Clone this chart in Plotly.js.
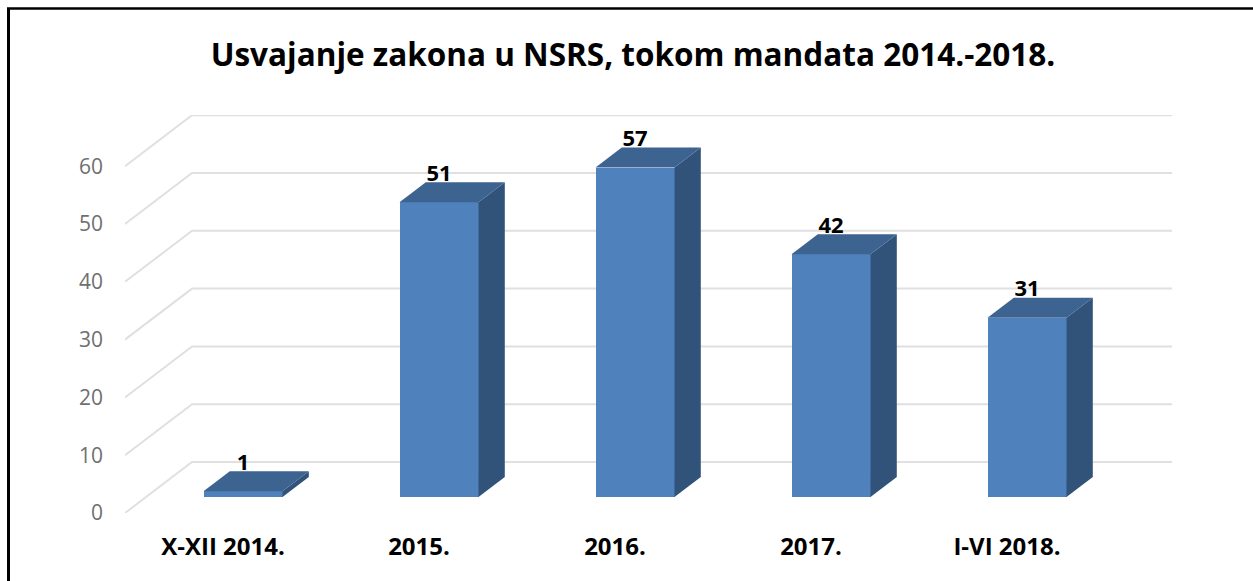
<!DOCTYPE html>
<html>
<head>
<meta charset="utf-8">
<script src="https://cdn.plot.ly/plotly-3.0.1.min.js"></script>
<style>html,body{margin:0;padding:0;background:#fff;overflow:hidden}#chart{width:1253px;height:581px}</style>
</head>
<body>
<div id="chart"></div>
<script>
// Data
const categories = ["X-XII 2014.", "2015.", "2016.", "2017.", "I-VI 2018."];
const laws = [1, 51, 57, 42, 31];
const yTicks = [0, 10, 20, 30, 40, 50, 60];
const chartTitle = "Usvajanje zakona u NSRS, tokom mandata 2014.-2018.";

// Pseudo-3D projection in axis units
const W = 1253, H = 581;
const plot = {l: 125, r: 1172, t: 115, b: 513};
const pxPerCat = 196, pxPerVal = 5.78;
const depthX = 67 / pxPerCat, depthY = 51 / pxPerVal;   // full floor depth
const nearD = 16 / 51, farD = 36 / 51;                  // bar's front/back in depth
const barW = 79 / pxPerCat;
const xMin = -0.5, xMax = xMin + (plot.r - plot.l) / pxPerCat;
const yMax = (plot.b - plot.t) / pxPerVal;

const cx = i => i + nearD * depthX - 1 / pxPerCat;
const front = {c: "#4f81bd", top: "#3d6391", side: "#31537a"};
const baseNear = nearD * depthY;

function poly(xs, ys, color) {
  return {type: "scatter", mode: "lines", x: xs.concat(xs[0]), y: ys.concat(ys[0]),
    fill: "toself", fillcolor: color, line: {width: 0, color: color},
    hoverinfo: "skip", showlegend: false};
}

const traces = [];
// front faces
traces.push({type: "bar", x: categories.map((_, i) => cx(i)), y: laws,
  base: laws.map(() => baseNear), width: barW,
  marker: {color: front.c, line: {width: 0}}, hoverinfo: "skip", showlegend: false});

laws.forEach((v, i) => {
  const xl = cx(i) - barW / 2, xr = cx(i) + barW / 2;
  const dxB = (farD - nearD) * depthX, dyB = (farD - nearD) * depthY;
  const top = v + baseNear;
  traces.push(poly([xr, xr + dxB, xr + dxB, xr], [baseNear, baseNear + dyB, top + dyB, top], front.side));
  traces.push(poly([xl, xr, xr + dxB, xl + dxB], [top, top, top + dyB, top + dyB], front.top));
});

// value labels
traces.push({type: "scatter", mode: "text", x: laws.map((_, i) => cx(i)),
  y: laws.map(v => v + baseNear + 27 / pxPerVal), text: laws.map(String),
  textposition: "middle center", cliponaxis: false,
  textfont: {family: "Open Sans, sans-serif", size: 22, color: "#000", weight: 700},
  hoverinfo: "skip", showlegend: false});

// wall + floor gridlines, built from the y ticks
const shapes = yTicks.map(v => ({
  type: "path", xref: "x", yref: "y", layer: "below",
  path: `M ${xMin} ${v} L ${xMin + depthX} ${v + depthY} L ${xMax} ${v + depthY}`,
  line: {color: "#e0e0e0", width: 2}
}));

// outer frame (left and top edges only)
const px = p => (p - plot.l) / (plot.r - plot.l);
const py = p => (plot.b - p) / (plot.b - plot.t);
shapes.push({type: "line", xref: "paper", yref: "paper", x0: px(8.5), x1: px(8.5), y0: py(8), y1: py(H), line: {color: "#000", width: 3}});
shapes.push({type: "line", xref: "paper", yref: "paper", x0: px(7), x1: px(W), y0: py(8.5), y1: py(8.5), line: {color: "#000", width: 2.5}});

const layout = {
  width: W, height: H,
  margin: {l: plot.l, r: W - plot.r, t: plot.t, b: H - plot.b, pad: 0},
  paper_bgcolor: "#fff", plot_bgcolor: "rgba(0,0,0,0)",
  showlegend: false, bargap: 0,
  title: {text: "<b>" + chartTitle + "</b>", x: 633 / W, xanchor: "center", y: 1 - 55 / H, yanchor: "middle",
    font: {family: "Open Sans, sans-serif", size: 31.5, color: "#000"}},
  xaxis: {type: "linear", range: [xMin, xMax], tickmode: "array",
    tickvals: categories.map((_, i) => i), ticktext: categories,
    showgrid: false, zeroline: false, showline: false, ticks: "", ticklabelstandoff: 17,
    tickfont: {family: "Open Sans, sans-serif", size: 24, color: "#000", weight: 700}},
  yaxis: {range: [0, yMax], tickmode: "array", tickvals: yTicks, ticktext: yTicks.map(String),
    showgrid: false, zeroline: false, showline: false, ticks: "", ticklabelstandoff: 21,
    tickfont: {family: "Open Sans, sans-serif", size: 21, color: "#6f6f6f"}},
  shapes: shapes
};
Plotly.newPlot("chart", traces, layout, {displayModeBar: false, staticPlot: true});
</script>
</body>
</html>
